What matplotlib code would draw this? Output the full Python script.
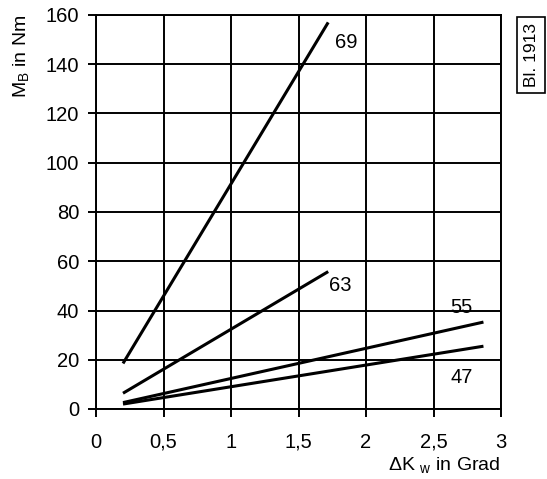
import matplotlib
matplotlib.use("Agg")
import matplotlib.pyplot as plt

plt.rcParams['font.family'] = ['Liberation Sans', 'DejaVu Sans']
plt.rcParams['mathtext.fontset'] = 'custom'
plt.rcParams['mathtext.rm'] = 'Liberation Sans'

# data: each line given by its two end points (x in Grad, y in Nm)
labels = ["69", "63", "55", "47"]
x_start = [0.2, 0.2, 0.2, 0.2]
y_start = [18.5, 6.4, 2.6, 2.0]
x_end = [1.72, 1.72, 2.87, 2.87]
y_end = [157, 55.8, 35.3, 25.5]
label_x = [1.85, 1.81, 2.71, 2.71]
label_y = [149, 50, 41.3, 12.6]

xticks = [0, 0.5, 1, 1.5, 2, 2.5, 3]
xticklabels = ["0", "0,5", "1", "1,5", "2", "2,5", "3"]
yticks = [0, 20, 40, 60, 80, 100, 120, 140, 160]

fig = plt.figure(figsize=(5.47, 4.79), dpi=100)
ax = fig.add_axes([96/547, 1-409/479, (501-96)/547, (409-15)/479])

for xs, ys, xe, ye, lab, lx, ly in zip(x_start, y_start, x_end, y_end, labels, label_x, label_y):
    ax.plot([xs, xe], [ys, ye], color='black', lw=2.2, solid_capstyle='butt')
    ax.text(lx, ly, lab, fontsize=14.5, ha='center', va='center')

ax.set_xlim(0, 3)
ax.set_ylim(0, 160)
ax.set_xticks(xticks)
ax.set_xticklabels(xticklabels)
ax.set_yticks(yticks)
ax.grid(True, color='black', lw=1.4)
ax.tick_params(direction='out', length=6, width=1.4, labelsize=14.5)
ax.tick_params(axis='x', pad=11)
ax.tick_params(axis='y', pad=6)
for s in ax.spines.values():
    s.set_linewidth(1.4)

fig.text(22/547, 1-56/479, r"M$_\mathregular{B}$ in Nm", rotation=90, fontsize=14,
         ha='center', va='center')
fig.text(444/547, 1-466/479, r"ΔK $_\mathregular{w}$ in Grad", fontsize=14,
         ha='center', va='center')
fig.text(531/547, 1-55/479, "Bl. 1913", rotation=90, fontsize=12.5,
         ha='center', va='center',
         bbox=dict(boxstyle='square,pad=0.35', fc='white', ec='black', lw=1.2))

fig.savefig("out.png", dpi=100)
